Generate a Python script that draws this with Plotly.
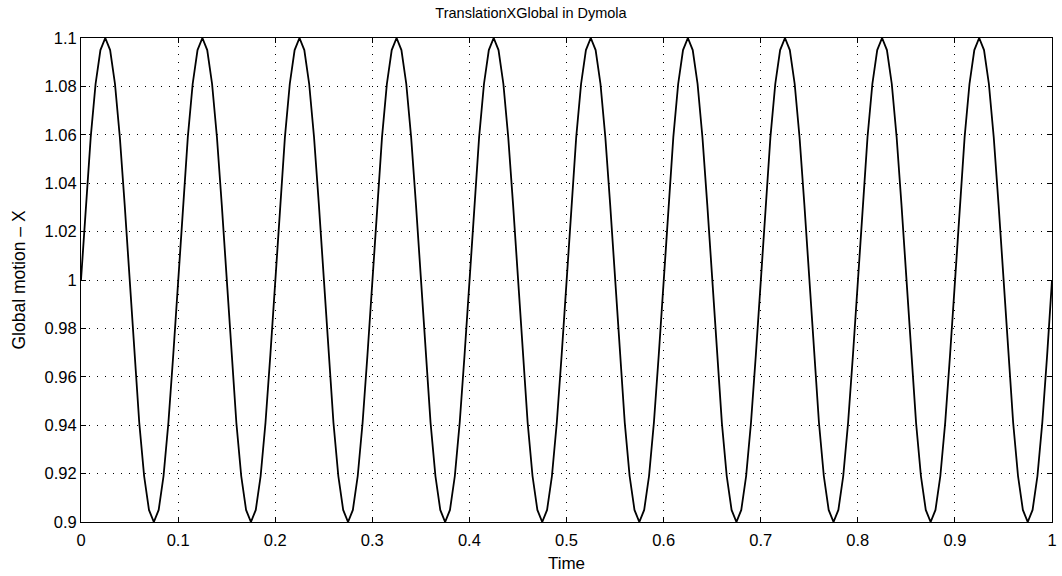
import plotly.graph_objects as go

# Sampled time points (dt = 0.005 s, 201 samples)
time = [round(i * 0.005, 3) for i in range(201)]

# Global motion X values (one value per sample)
motion_x = [
    1.000, 1.031, 1.059, 1.081, 1.095, 1.100, 1.095, 1.081, 1.059, 1.031, 1.000, 0.969, 0.941, 0.919, 0.905, 0.900, 0.905, 0.919, 0.941, 0.969,
    1.000, 1.031, 1.059, 1.081, 1.095, 1.100, 1.095, 1.081, 1.059, 1.031, 1.000, 0.969, 0.941, 0.919, 0.905, 0.900, 0.905, 0.919, 0.941, 0.969,
    1.000, 1.031, 1.059, 1.081, 1.095, 1.100, 1.095, 1.081, 1.059, 1.031, 1.000, 0.969, 0.941, 0.919, 0.905, 0.900, 0.905, 0.919, 0.941, 0.969,
    1.000, 1.031, 1.059, 1.081, 1.095, 1.100, 1.095, 1.081, 1.059, 1.031, 1.000, 0.969, 0.941, 0.919, 0.905, 0.900, 0.905, 0.919, 0.941, 0.969,
    1.000, 1.031, 1.059, 1.081, 1.095, 1.100, 1.095, 1.081, 1.059, 1.031, 1.000, 0.969, 0.941, 0.919, 0.905, 0.900, 0.905, 0.919, 0.941, 0.969,
    1.000, 1.031, 1.059, 1.081, 1.095, 1.100, 1.095, 1.081, 1.059, 1.031, 1.000, 0.969, 0.941, 0.919, 0.905, 0.900, 0.905, 0.919, 0.941, 0.969,
    1.000, 1.031, 1.059, 1.081, 1.095, 1.100, 1.095, 1.081, 1.059, 1.031, 1.000, 0.969, 0.941, 0.919, 0.905, 0.900, 0.905, 0.919, 0.941, 0.969,
    1.000, 1.031, 1.059, 1.081, 1.095, 1.100, 1.095, 1.081, 1.059, 1.031, 1.000, 0.969, 0.941, 0.919, 0.905, 0.900, 0.905, 0.919, 0.941, 0.969,
    1.000, 1.031, 1.059, 1.081, 1.095, 1.100, 1.095, 1.081, 1.059, 1.031, 1.000, 0.969, 0.941, 0.919, 0.905, 0.900, 0.905, 0.919, 0.941, 0.969,
    1.000, 1.031, 1.059, 1.081, 1.095, 1.100, 1.095, 1.081, 1.059, 1.031, 1.000, 0.969, 0.941, 0.919, 0.905, 0.900, 0.905, 0.919, 0.941, 0.969,
    1.000,
]

x_ticks = [0, 0.1, 0.2, 0.3, 0.4, 0.5, 0.6, 0.7, 0.8, 0.9, 1]
x_tick_labels = ["0", "0.1", "0.2", "0.3", "0.4", "0.5", "0.6", "0.7", "0.8", "0.9", "1"]
y_ticks = [0.9, 0.92, 0.94, 0.96, 0.98, 1.0, 1.02, 1.04, 1.06, 1.08, 1.1]
y_tick_labels = ["0.9", "0.92", "0.94", "0.96", "0.98", "1", "1.02", "1.04", "1.06", "1.08", "1.1"]

FONT = "Liberation Sans, Arial, sans-serif"

fig = go.Figure()
fig.add_trace(go.Scatter(
    x=time, y=motion_x, mode="lines",
    line=dict(color="black", width=1.8),
    showlegend=False,
))

axis_common = dict(
    showline=True, linecolor="black", linewidth=1, mirror="ticks",
    ticks="inside", ticklen=5, tickcolor="black",
    showgrid=True, gridcolor="black", gridwidth=1, griddash="1px,7px",
    zeroline=False, automargin=False,
    tickfont=dict(family=FONT, size=16.5, color="black"),
)

fig.update_layout(
    width=1062, height=576,
    paper_bgcolor="white", plot_bgcolor="white",
    margin=dict(l=81, r=10, t=38, b=54),
    title=dict(
        text="TranslationXGlobal in Dymola",
        x=0.5, xanchor="center", y=1 - 12.5 / 576, yanchor="middle",
        font=dict(family=FONT, size=14.5, color="black"),
    ),
    xaxis=dict(
        range=[0, 1], tickvals=x_ticks, ticktext=x_tick_labels,
        ticklabelstandoff=3,
        title=dict(text="Time", standoff=9,
                   font=dict(family=FONT, size=17, color="black")),
        **axis_common,
    ),
    yaxis=dict(
        range=[0.9, 1.1], tickvals=y_ticks, ticktext=y_tick_labels,
        title=dict(text="Global motion – X", standoff=14,
                   font=dict(family=FONT, size=17.5, color="black")),
        **axis_common,
    ),
)

fig.write_html(
    "out.html",
    config={"displayModeBar": False},
    post_script="document.body.style.margin='0';document.body.style.overflow='hidden';",
)
